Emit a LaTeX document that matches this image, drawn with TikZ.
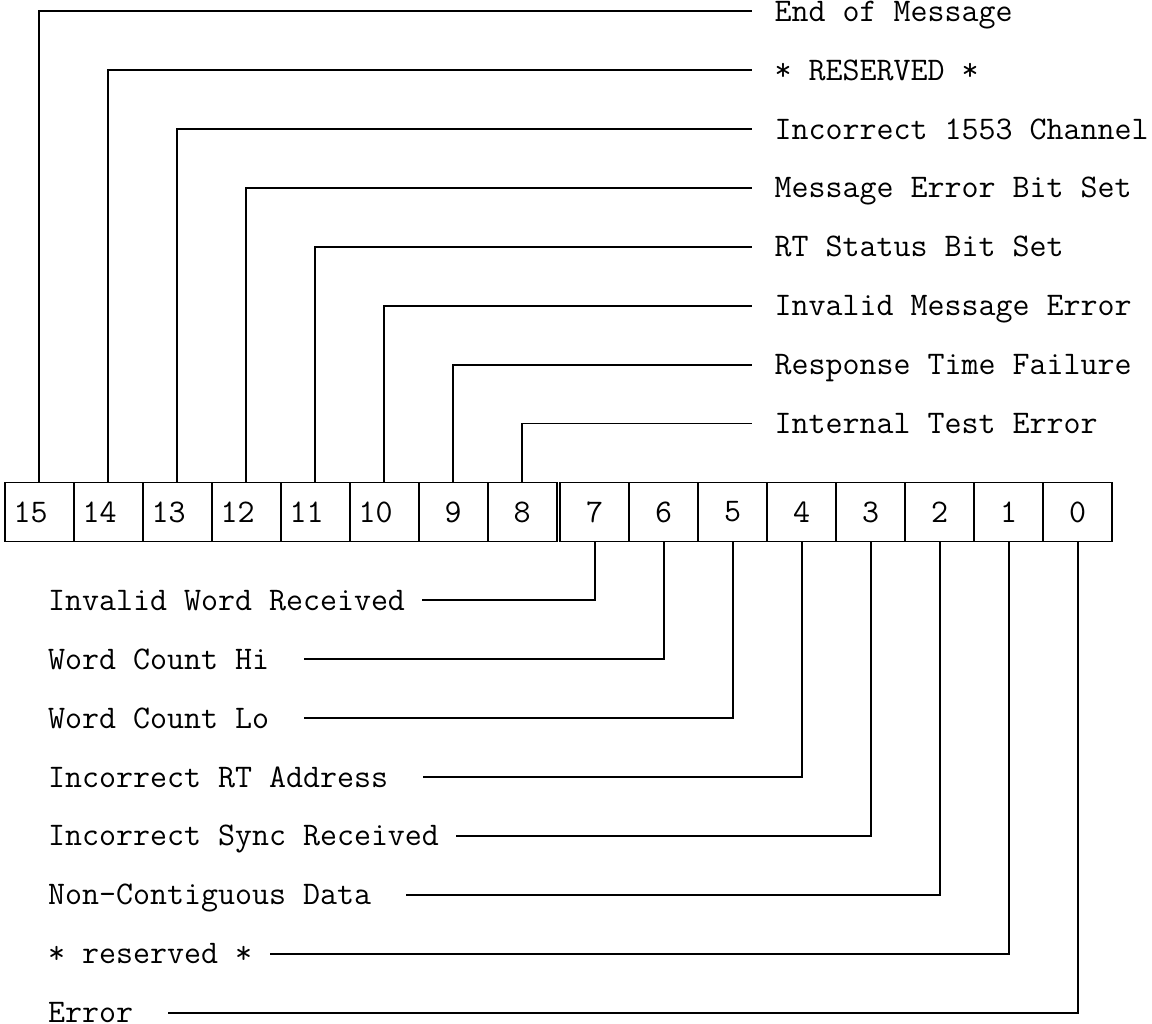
\documentclass[tikz,border=0pt]{standalone}
\usetikzlibrary{positioning}
\newcommand{\regfont}{\fontsize{33}{40}\selectfont\ttfamily}
\tikzset{%
    cell/.style={%
        draw, line width=1.8pt, outer sep=0pt, inner sep=0pt,
        minimum width=69pt, minimum height=58.9pt, font=\regfont
    },
    flag/.style={%
        anchor=west, inner sep=0pt, text height=20pt, text depth=0pt,
        font=\regfont
    },
    wire/.style={%
        line width=1.8pt
    }
}

\begin{document}
\begin{tikzpicture}[x=1pt, y=-1pt]
    \useasboundingbox (0,0) rectangle (1152,1024);

    % upper byte, then a double rule, then the lower byte
    \node[cell] (b15) at (39.1,512) {15\phantom{0}};
    \foreach \b [remember=\b as \p (initially 15)] in {14,...,8}
        \node[cell, right=0pt of b\p] (b\b) {\b\ifnum\b>9 \phantom{0}\fi};
    \node[cell, right=3.6pt of b8] (b7) {7};
    \foreach \b [remember=\b as \p (initially 7)] in {6,...,0}
        \node[cell, right=0pt of b\p] (b\b) {\b};

    \foreach \b/\txt in {15/End of Message,
                         14/* RESERVED *,
                         13/Incorrect 1553 Channel,
                         12/Message Error Bit Set,
                         11/RT Status Bit Set,
                         10/Invalid Message Error,
                         9/Response Time Failure,
                         8/Internal Test Error}
    {
        \pgfmathsetmacro\rowy{11.3+58.9*(15-\b)}
        \node[flag] (f\b) at (774.5,\rowy) {\txt};
        \draw[wire, shorten >=23pt] (b\b.north) |- (f\b.west);
    }

    \foreach \b/\txt/\g in {7/Invalid Word Received/1,
                            6/Word Count Hi/2,
                            5/Word Count Lo/2,
                            4/Incorrect RT Address/2,
                            3/Incorrect Sync Received/1,
                            2/Non-Contiguous Data/2,
                            1/* reserved */1,
                            0/Error/2}
    {
        \pgfmathsetmacro\rowy{11.3+58.9*(17-\b)}
        \node[flag] (g\b) at (47.9,\rowy) {\txt};
        \draw[wire] (b\b.south) |- ([xshift=\g*17.3pt]g\b.east);
    }
\end{tikzpicture}
\end{document}
